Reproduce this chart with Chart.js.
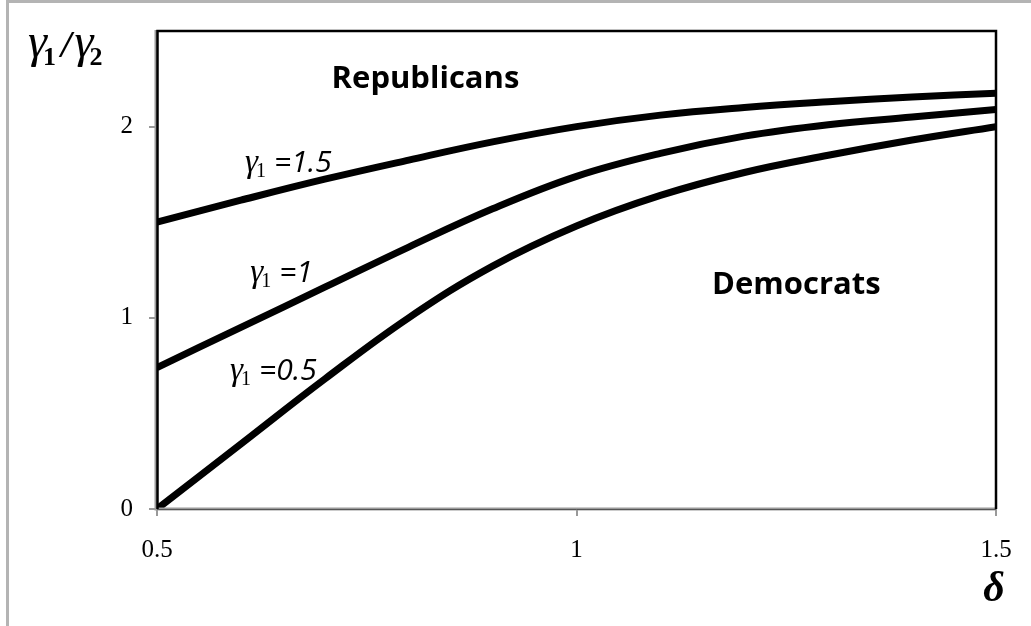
<!DOCTYPE html>
<html>
<head>
<meta charset="utf-8">
<script src="https://cdn.jsdelivr.net/npm/chart.js@4.4.1/dist/chart.umd.min.js"></script>
<style>
  html, body { margin: 0; padding: 0; background: #fff; }
  #wrap { width: 1031px; height: 626px; position: relative; }
  canvas { display: block; }
</style>
</head>
<body>
<div id="wrap"><canvas id="c" width="1031" height="626"></canvas></div>
<script>
// Threshold ratio gamma1/gamma2 as a function of delta, one curve per gamma1
const deltaValues = [0.5, 0.6, 0.7, 0.8, 0.9, 1.0, 1.1, 1.2, 1.3, 1.4, 1.5];
const ratioGamma15 = [1.50, 1.615, 1.725, 1.825, 1.92, 2.00, 2.06, 2.10, 2.13, 2.155, 2.175];
const ratioGamma10 = [0.74, 0.95, 1.16, 1.37, 1.57, 1.74, 1.86, 1.95, 2.01, 2.05, 2.09];
const ratioGamma05 = [0.00, 0.34, 0.68, 1.00, 1.27, 1.48, 1.64, 1.76, 1.85, 1.93, 2.00];

const xTicks = [0.5, 1, 1.5];
const yTicks = [0, 1, 2];
const xTickLabels = ['0.5', '1', '1.5'];
const yTickLabels = ['0', '1', '2'];

const curveLabels = [
  { value: '1.5', x: 0.605, y: 1.763 },
  { value: '1',   x: 0.611, y: 1.187 },
  { value: '0.5', x: 0.587, y: 0.675 }
];
const regionLabels = [
  { text: 'Republicans', x: 0.82, y: 2.25 },
  { text: 'Democrats',   x: 1.262, y: 1.17 }
];

function toPoints(ys) {
  return deltaValues.map((d, i) => ({ x: d, y: ys[i] }));
}

function curve(ys) {
  return {
    data: toPoints(ys),
    borderColor: '#000',
    borderWidth: 7,
    pointRadius: 0,
    fill: false,
    tension: 0.4,
    borderCapStyle: 'butt'
  };
}

const decorations = {
  id: 'decorations',
  beforeDraw(chart) {
    const ctx = chart.ctx;
    ctx.save();
    ctx.fillStyle = '#fff';
    ctx.fillRect(0, 0, chart.width, chart.height);
    // outer gray frame edges
    ctx.fillStyle = '#b4b4b4';
    ctx.fillRect(7, 0, chart.width - 7, 3);
    ctx.fillRect(6, 0, 3, chart.height);
    ctx.restore();
  },
  afterDatasetsDraw(chart) {
    const ctx = chart.ctx;
    const a = chart.chartArea;
    const xs = chart.scales.x, ys = chart.scales.y;
    ctx.save();
    // plot frame
    ctx.strokeStyle = '#9a9a9a';
    ctx.lineWidth = 3;
    ctx.beginPath();
    ctx.moveTo(a.left - 1, a.top - 1);
    ctx.lineTo(a.left - 1, a.bottom);
    ctx.lineTo(a.right, a.bottom);
    ctx.stroke();
    ctx.strokeStyle = '#000';
    ctx.lineWidth = 2.5;
    ctx.beginPath();
    ctx.moveTo(a.left + 0.5, a.bottom);
    ctx.lineTo(a.left + 0.5, a.top);
    ctx.lineTo(a.right, a.top);
    ctx.lineTo(a.right, a.bottom);
    ctx.stroke();
    ctx.strokeStyle = '#555';
    ctx.lineWidth = 1;
    ctx.beginPath();
    ctx.moveTo(a.left, a.bottom + 0.5);
    ctx.lineTo(a.right, a.bottom + 0.5);
    ctx.stroke();

    // region labels
    ctx.fillStyle = '#000';
    ctx.textBaseline = 'middle';
    ctx.textAlign = 'center';
    ctx.font = 'bold 31px "Open Sans"';
    regionLabels.forEach(l => {
      ctx.fillText(l.text, xs.getPixelForValue(l.x), ys.getPixelForValue(l.y));
    });

    // curve labels: gamma_1 = value
    ctx.textAlign = 'left';
    ctx.textBaseline = 'alphabetic';
    curveLabels.forEach(l => {
      let px = xs.getPixelForValue(l.x);
      const py = ys.getPixelForValue(l.y);
      ctx.font = 'italic 33px "Liberation Serif"';
      ctx.fillText('\u03B3', px, py);
      px += ctx.measureText('\u03B3').width - 2;
      ctx.font = '20px "Liberation Serif"';
      ctx.fillText('1', px, py + 5);
      px += ctx.measureText('1').width + 8;
      ctx.font = 'italic 30px "Open Sans"';
      ctx.fillText('=' + l.value, px, py);
    });

    // y axis title: gamma_1 / gamma_2
    let tx = 28, ty = 57;
    ctx.font = 'italic 48px "Liberation Serif"';
    ctx.fillText('\u03B3', tx, ty);
    tx += ctx.measureText('\u03B3').width - 4;
    ctx.font = 'bold 26px "Liberation Serif"';
    ctx.fillText('1', tx, ty + 8);
    tx += ctx.measureText('1').width + 5;
    ctx.font = 'bold italic 38px "Liberation Serif"';
    ctx.fillText('/', tx, ty);
    tx += ctx.measureText('/').width + 3;
    ctx.font = 'italic 48px "Liberation Serif"';
    ctx.fillText('\u03B3', tx, ty);
    tx += ctx.measureText('\u03B3').width - 4;
    ctx.font = 'bold 26px "Liberation Serif"';
    ctx.fillText('2', tx, ty + 8);

    // x axis title: delta
    ctx.textAlign = 'center';
    ctx.font = 'bold italic 42px "Liberation Serif"';
    ctx.fillText('\u03B4', 994, 601);
    ctx.restore();
  }
};

new Chart(document.getElementById('c'), {
  type: 'line',
  data: {
    datasets: [curve(ratioGamma15), curve(ratioGamma10), curve(ratioGamma05)]
  },
  options: {
    responsive: false,
    animation: false,
    layout: { padding: { left: 0, top: 31, right: 35, bottom: 0 } },
    plugins: { legend: { display: false }, tooltip: { enabled: false } },
    scales: {
      x: {
        type: 'linear',
        min: 0.5,
        max: 1.5,
        afterBuildTicks: s => { s.ticks = xTicks.map(v => ({ value: v })); },
        afterFit: s => { s.height = 117; },
        grid: { drawOnChartArea: false, drawTicks: true, tickLength: 7, color: '#999', lineWidth: 2 },
        border: { display: false },
        ticks: {
          color: '#000',
          font: { family: '"Liberation Serif"', size: 25 },
          padding: 19,
          maxRotation: 0,
          callback: v => xTickLabels[xTicks.indexOf(v)]
        }
      },
      y: {
        type: 'linear',
        min: 0,
        max: 2.5,
        afterBuildTicks: s => { s.ticks = yTicks.map(v => ({ value: v })); },
        afterFit: s => { s.width = 157; },
        grid: { drawOnChartArea: false, drawTicks: true, tickLength: 8, color: '#999', lineWidth: 2 },
        border: { display: false },
        ticks: {
          color: '#000',
          font: { family: '"Liberation Serif"', size: 25 },
          padding: 16,
          callback: v => yTickLabels[yTicks.indexOf(v)]
        }
      }
    }
  },
  plugins: [decorations]
});
</script>
</body>
</html>
